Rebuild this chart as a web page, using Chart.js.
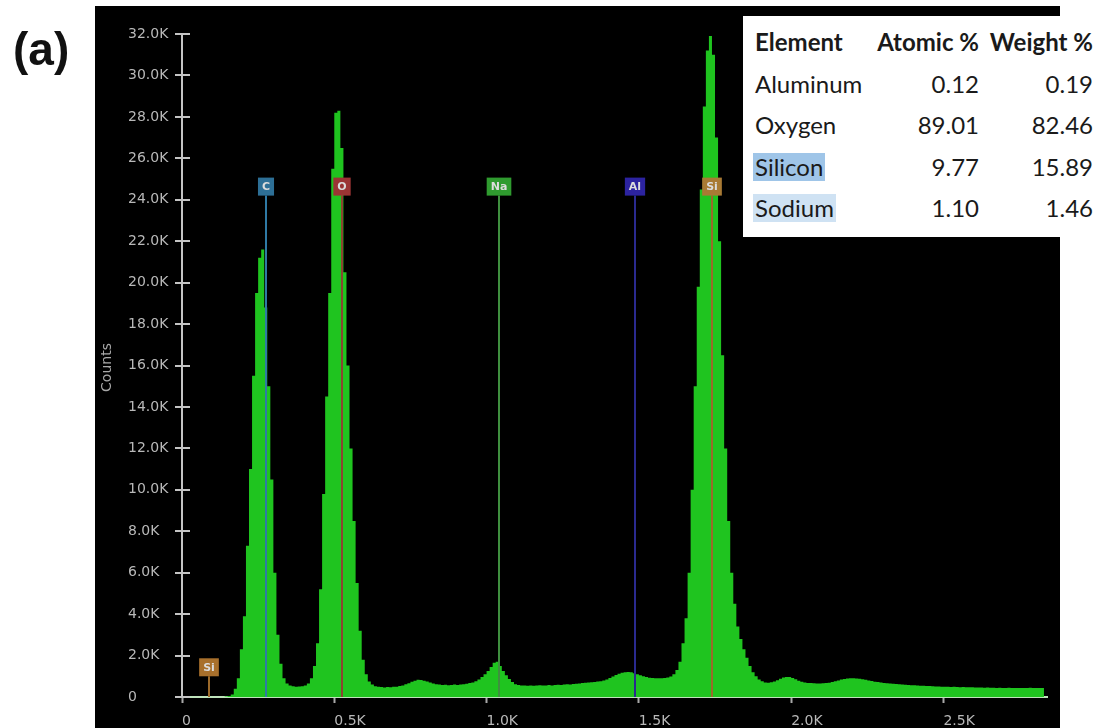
<!DOCTYPE html>
<html>
<head>
<meta charset="utf-8">
<title>EDS spectrum</title>
<script src="https://cdn.jsdelivr.net/npm/chart.js@4.4.0/dist/chart.umd.min.js"></script>
<style>
  html, body { margin: 0; padding: 0; background: #fff; }
  #wrap { position: relative; width: 1102px; height: 728px; overflow: hidden; }
  #mycanvas { position: absolute; left: 0; top: 0; }
  #tag { position: absolute; left: 13px; top: 26px; font: bold 46px "Liberation Sans", Arial, sans-serif; line-height: 46px; color: #111; }
  #comp { position: absolute; left: 743px; top: 16px; width: 359px; height: 221px; background: #fff;
          font-family: Lato, "Open Sans", sans-serif; font-size: 24px; color: #1a1a1a; }
  #comp .row { position: absolute; left: 0; width: 359px; height: 41.5px; line-height: 41.5px; }
  #comp .c0 { position: absolute; left: 10px; }
  #comp .c0 span { display: inline-block; padding: 0 2px; line-height: 28px; }
  #comp .c1 { position: absolute; right: 123px; }
  #comp .c2 { position: absolute; right: 9px; }
  #comp .head { font-weight: bold; }
</style>
</head>
<body>
<div id="wrap">
  <canvas id="mycanvas" width="1102" height="728"></canvas>
  <div id="tag">(a)</div>
  <div id="comp"></div>
</div>
<script>
// spectrum: counts per 10 eV channel, starting at 0 eV
var channelWidth = 10;
var counts = [
  0, 0, 0, 0, 0, 0, 0, 0, 0, 0,
  0, 0, 0, 0, 0, 20, 50, 120, 400, 900,
  2300, 3900, 7300, 11000, 15500, 19500, 21200, 21600, 18800, 15000,
  10500, 6000, 3000, 1600, 900, 650, 560, 520, 500, 510,
  520, 560, 650, 900, 1500, 2600, 5200, 9800, 14500, 19500,
  25500, 28200, 28300, 26500, 20500, 16000, 12000, 8500, 5500, 3200,
  1800, 1100, 750, 600, 520, 490, 480, 460, 480, 470,
  490, 500, 530, 560, 610, 660, 740, 790, 830, 820,
  790, 750, 700, 650, 620, 600, 580, 590, 570, 580,
  600, 580, 600, 620, 640, 670, 700, 760, 850, 960,
  1100, 1260, 1450, 1650, 1700, 1500, 1250, 1050, 870, 720,
  620, 580, 560, 550, 540, 555, 540, 550, 565, 550,
  560, 575, 560, 580, 590, 585, 600, 610, 605, 630,
  640, 650, 670, 690, 700, 715, 730, 745, 760, 800,
  850, 920, 990, 1060, 1120, 1170, 1200, 1210, 1190, 1150,
  1100, 1050, 1000, 960, 930, 920, 910, 900, 910, 920,
  940, 990, 1100, 1300, 1700, 2600, 3800, 6000, 10000, 15000,
  19800, 24500, 28500, 31200, 31900, 31000, 27000, 22000, 16500, 12000,
  8500, 6000, 4500, 3400, 2800, 2300, 1900, 1500, 1200, 1000,
  850, 760, 700, 690, 710, 750, 810, 880, 940, 970,
  960, 920, 860, 790, 740, 700, 680, 670, 660, 650,
  655, 660, 670, 690, 720, 760, 800, 840, 870, 890,
  900, 905, 890, 880, 860, 830, 800, 770, 740, 720,
  700, 680, 665, 650, 640, 625, 610, 600, 590, 580,
  570, 565, 555, 545, 540, 535, 525, 520, 510, 505,
  500, 495, 490, 485, 490, 480, 475, 480, 470, 465,
  470, 460, 455, 460, 450, 455, 445, 450, 440, 445,
  440, 435, 445, 440, 430, 435, 440, 430, 435, 445,
  440, 430, 435, 430
];
var energyMax = 2840;
var energyTicks = [0, 500, 1000, 1500, 2000, 2500];
var countMax = 32000;
var countTicks = [0, 2000, 4000, 6000, 8000, 10000, 12000, 14000, 16000,
                  18000, 20000, 22000, 24000, 26000, 28000, 30000, 32000];

// element lines
var markerEnergy = [88, 277, 525, 1041, 1487, 1740];
var markerLabel = ['Si', 'C', 'O', 'Na', 'Al', 'Si'];
var markerCounts = [1000, 24200, 24200, 24200, 24200, 24200];
var markerBox = ['#a8702c', '#2d6f96', '#9b3434', '#2f9b2f', '#2c23a0', '#a87a34'];
var markerLine = ['#9c6a2a', '#2f7aa5', '#8b4530', '#3f8f3f', '#2a2a90', '#9a6a2a'];

// quantification
var elements = ['Aluminum', 'Oxygen', 'Silicon', 'Sodium'];
var atomicPct = [0.12, 89.01, 9.77, 1.10];
var weightPct = [0.19, 82.46, 15.89, 1.46];
var highlight = ['', '', '#9fc5e8', '#cfe2f3'];

function kLabel(v) {
  return v === 0 ? '0' : (v / 1000).toFixed(1) + 'K';
}

function fixedTicks(list) {
  return function(scale) {
    scale.ticks = list.map(function(v) { return { value: v }; });
  };
}

// table
var comp = document.getElementById('comp');
var html = '<div class="row head" style="top:5px"><div class="c0"><span>Element</span></div>' +
  '<div class="c1">Atomic %</div><div class="c2">Weight %</div></div>';
for (var i = 0; i < elements.length; i++) {
  var bg = highlight[i] ? ' style="background:' + highlight[i] + '"' : '';
  html += '<div class="row" style="top:' + (5 + (i + 1) * 41.5) + 'px">' +
    '<div class="c0"><span' + bg + '>' + elements[i] + '</span></div>' +
    '<div class="c1">' + atomicPct[i].toFixed(2) + '</div>' +
    '<div class="c2">' + weightPct[i].toFixed(2) + '</div></div>';
}
comp.innerHTML = html;

var points = [];
for (var j = 0; j < counts.length; j++) {
  points.push({ x: j * channelWidth, y: counts[j] });
}

var panelPlugin = {
  id: 'panel',
  beforeDraw: function(chart) {
    var ctx = chart.ctx;
    ctx.save();
    ctx.fillStyle = '#000';
    ctx.fillRect(95, 6, 965, 722);
    ctx.restore();
  }
};

// tick marks crossing the count axis, plus the axis title
var yAxisPlugin = {
  id: 'yaxis',
  afterDraw: function(chart) {
    var ctx = chart.ctx;
    var ys = chart.scales.y;
    var area = chart.chartArea;
    var x0 = area.left;
    ctx.save();
    ctx.strokeStyle = '#c4c4c4';
    ctx.lineWidth = 2;
    ys.ticks.forEach(function(t) {
      var y = Math.round(ys.getPixelForValue(t.value));
      ctx.beginPath();
      ctx.moveTo(x0 - 7, y);
      ctx.lineTo(x0 + 8, y);
      ctx.stroke();
    });
    ctx.translate(107, (area.top + area.bottom) / 2 + 2);
    ctx.rotate(-Math.PI / 2);
    ctx.font = '14px "DejaVu Sans", sans-serif';
    ctx.fillStyle = '#a8a8a8';
    ctx.textAlign = 'center';
    ctx.textBaseline = 'middle';
    ctx.fillText('Counts', 0, 0);
    ctx.restore();
  }
};

var markerPlugin = {
  id: 'markers',
  afterDatasetsDraw: function(chart) {
    var ctx = chart.ctx;
    var xs = chart.scales.x, ys = chart.scales.y;
    var base = ys.getPixelForValue(0);
    ctx.save();
    ctx.font = 'bold 11px "DejaVu Sans", sans-serif';
    ctx.textAlign = 'center';
    ctx.textBaseline = 'middle';
    for (var k = 0; k < markerEnergy.length; k++) {
      var px = Math.round(xs.getPixelForValue(markerEnergy[k]));
      var top = ys.getPixelForValue(markerCounts[k]);
      ctx.strokeStyle = markerLine[k];
      ctx.lineWidth = 2;
      ctx.beginPath();
      ctx.moveTo(px, top);
      ctx.lineTo(px, base);
      ctx.stroke();
      var w = ctx.measureText(markerLabel[k]).width + 8;
      var h = 18;
      ctx.fillStyle = markerBox[k];
      ctx.fillRect(px - w / 2, top - h, w, h);
      ctx.fillStyle = '#dcdcdc';
      ctx.fillText(markerLabel[k], px, top - h / 2 + 1);
    }
    ctx.restore();
  }
};

var ctx = document.getElementById('mycanvas');
var tickFont = { family: '"DejaVu Sans", sans-serif', size: 14 };

var spectrum = new Chart(ctx, {
  type: 'line',
  data: {
    datasets: [{
      label: 'Counts',
      data: points,
      stepped: 'after',
      fill: 'origin',
      backgroundColor: '#1fc41f',
      borderColor: 'rgba(0,0,0,0)',
      borderWidth: 1,
      pointRadius: 0
    }]
  },
  options: {
    responsive: false,
    animation: false,
    layout: { padding: { left: 128, top: 34, right: 55, bottom: 0 } },
    plugins: { legend: { display: false }, tooltip: { enabled: false } },
    scales: {
      x: {
        type: 'linear',
        min: 0,
        max: energyMax,
        afterBuildTicks: fixedTicks(energyTicks),
        afterFit: function(s) { s.height = 31; },
        ticks: {
          align: 'start',
          color: '#b8b8b8',
          font: tickFont,
          padding: 10,
          maxRotation: 0,
          autoSkip: false,
          callback: kLabel
        },
        grid: { drawOnChartArea: false, drawTicks: true, tickLength: 6, color: '#a8a8a8', tickWidth: 2 },
        border: { color: '#bfe3bb', width: 2 }
      },
      y: {
        min: 0,
        max: countMax,
        afterBuildTicks: fixedTicks(countTicks),
        afterFit: function(s) { s.width = 54; },
        ticks: {
          crossAlign: 'far',
          color: '#b8b8b8',
          font: tickFont,
          padding: 10,
          autoSkip: false,
          callback: kLabel
        },
        grid: { drawOnChartArea: false, drawTicks: false },
        border: { color: '#c4c4c4', width: 2 }
      }
    }
  },
  plugins: [panelPlugin, yAxisPlugin, markerPlugin]
});
</script>
</body>
</html>
